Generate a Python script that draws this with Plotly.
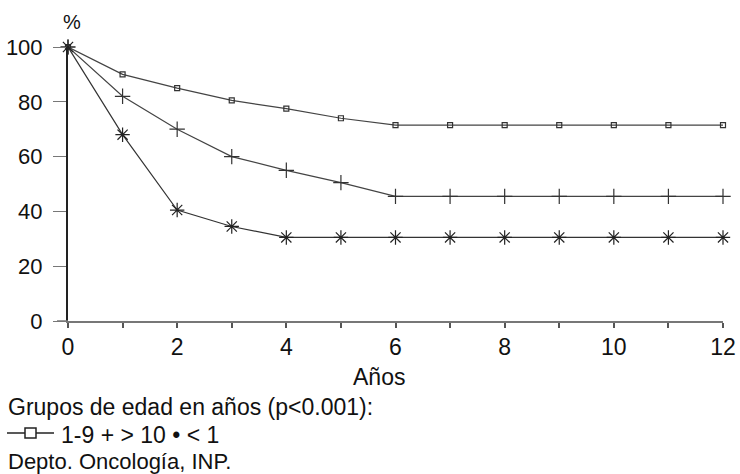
import plotly.graph_objects as go

years = list(range(0, 13))
grp_1_9 = [100, 90, 85, 80.5, 77.5, 74, 71.5, 71.5, 71.5, 71.5, 71.5, 71.5, 71.5]
grp_gt10 = [100, 82, 70, 60, 55, 50.5, 45.5, 45.5, 45.5, 45.5, 45.5, 45.5, 45.5]
grp_lt1 = [100, 68, 40.5, 34.5, 30.5, 30.5, 30.5, 30.5, 30.5, 30.5, 30.5, 30.5, 30.5]
y_ticks = [0, 20, 40, 60, 80, 100]
x_tickvals = list(range(0, 13))
x_ticktext = [str(v) if v % 2 == 0 else "" for v in x_tickvals]

FONT = "Liberation Sans, Arial, sans-serif"
W, H = 740, 474
# plot area in page pixels: x 68..723, y 47..321
L, R, T, B = 68, 740 - 723, 47, 474 - 321
PW, PH = W - L - R, H - T - B

def px_x(x):
    return (x - L) / PW

def px_y(y):
    return (H - B - y) / PH

fig = go.Figure()
fig.add_trace(go.Scatter(x=years, y=grp_1_9, mode="lines+markers", name="1-9",
                         line=dict(color="#444", width=1.2),
                         marker=dict(symbol="square-open", size=5, color="#333", line=dict(width=1.2)),
                         cliponaxis=False))
fig.add_trace(go.Scatter(x=years, y=grp_gt10, mode="lines+markers", name="> 10",
                         line=dict(color="#444", width=1.2),
                         marker=dict(symbol="cross-thin-open", size=11, color="#333", line=dict(width=1.2)),
                         cliponaxis=False))
fig.add_trace(go.Scatter(x=years, y=grp_lt1, mode="lines+markers", name="< 1",
                         line=dict(color="#333", width=1.2),
                         marker=dict(symbol="asterisk-open", size=12, color="#222", line=dict(width=1.2)),
                         cliponaxis=False))

fig.update_layout(
    width=W, height=H,
    margin=dict(l=L, r=R, t=T, b=B, autoexpand=False),
    paper_bgcolor="white", plot_bgcolor="white",
    showlegend=False,
    font=dict(family=FONT, size=23, color="#111"),
)
fig.update_xaxes(range=[0, 12], tickmode="array", tickvals=x_tickvals, ticktext=x_ticktext,
                 showgrid=False, zeroline=False, showline=True, linecolor="#777", linewidth=1.5,
                 ticks="outside", ticklen=5, tickcolor="#555", tickwidth=1.5,
                 tickfont=dict(size=23, family=FONT))
fig.update_yaxes(range=[0, 100], tickmode="array", tickvals=y_ticks,
                 showgrid=False, zeroline=False, showline=True, linecolor="#222", linewidth=2,
                 ticks="outside", ticklen=13, tickcolor="#777", tickwidth=1.2,
                 ticklabelstandoff=6,
                 tickfont=dict(size=22, family=FONT))

# extension of x axis line to the left of the y axis
fig.add_shape(type="line", xref="paper", yref="paper", x0=px_x(57), x1=0, y0=0, y1=0,
              line=dict(color="#777", width=1.5))

def txt(s, x, y, anchor="left", size=23):
    fig.add_annotation(text=s, xref="paper", yref="paper", x=px_x(x), y=px_y(y),
                       xanchor=anchor, yanchor="middle", showarrow=False,
                       font=dict(family=FONT, size=size, color="#111"))

txt("%", 72, 22, "center", 20)
txt("Años", 379, 377, "center")
txt("Grupos de edad en años (p<0.001):", 6, 407)
# legend key symbol: line with open square
fig.add_shape(type="line", xref="paper", yref="paper", x0=px_x(7), x1=px_x(54),
              y0=px_y(433), y1=px_y(433), line=dict(color="#222", width=1.5))
fig.add_shape(type="rect", xref="paper", yref="paper", x0=px_x(25), x1=px_x(36),
              y0=px_y(438), y1=px_y(428), line=dict(color="#222", width=1.5), fillcolor="white")
txt("1-9 + > 10 • < 1", 59, 435)
txt("Depto. Oncología, INP.", 6, 461, size=22)

fig.write_html("out.html", post_script="document.body.style.margin='0';",
               config={"displayModeBar": False})
